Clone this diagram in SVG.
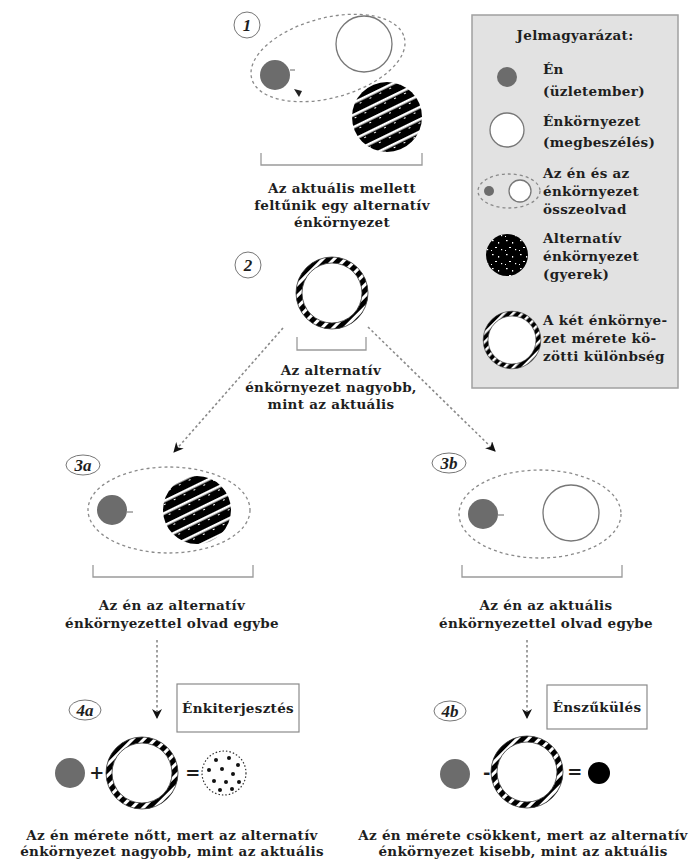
<svg xmlns="http://www.w3.org/2000/svg" width="694" height="859" viewBox="0 0 694 859">
<style>
text{font-family:"DejaVu Serif","Liberation Serif",serif;font-weight:bold;font-size:13.5px;fill:#1e1e1e;letter-spacing:0.3px}
.c{text-anchor:middle}
.num{font-family:"Liberation Serif",serif;font-style:italic;font-size:17px;text-anchor:middle;letter-spacing:0}
.op{font-size:18px}
.lbl{fill:#fff;stroke:#777;stroke-width:1}
.self{fill:#6c6c6c}
.env{fill:#fff;stroke:#777;stroke-width:1.3}
.merge{fill:none;stroke:#8a8a8a;stroke-width:1.3;stroke-dasharray:3 3}
.br{fill:none;stroke:#9a9a9a;stroke-width:1.3}
.conn{fill:none;stroke:#8a8a8a;stroke-width:1.6;stroke-dasharray:2.5 2.5}
.box{fill:#fff;stroke:#8a8a8a;stroke-width:1.2}
.tick{stroke:#666;stroke-width:1}
</style>
<defs>
<pattern id="stripes" patternUnits="userSpaceOnUse" width="11" height="11" patternTransform="rotate(-26)">
<rect width="11" height="11" fill="#000"/>
<rect y="4" width="11" height="2.6" fill="#fff"/>
<rect x="3" y="8" width="2" height="1" fill="#fff"/>
</pattern>
<pattern id="speckle" patternUnits="userSpaceOnUse" width="14" height="14">
<rect width="14" height="14" fill="#000"/>
<rect x="2" y="2" width="1.6" height="1.2" fill="#fff"/>
<rect x="8" y="4" width="1.2" height="1.6" fill="#fff"/>
<rect x="5" y="9" width="2" height="1" fill="#fff"/>
<rect x="11" y="11" width="1.2" height="1.2" fill="#fff"/>
<rect x="1" y="12" width="1" height="1" fill="#fff"/>
</pattern>
<pattern id="ringhatch" patternUnits="userSpaceOnUse" width="8" height="8" patternTransform="rotate(45)">
<rect width="8" height="8" fill="#000"/>
<rect x="0" width="3" height="8" fill="#fff"/>
</pattern>
<g id="ring">
<circle r="33" fill="#fff" stroke="url(#ringhatch)" stroke-width="6"/>
<circle r="36" fill="none" stroke="#333" stroke-width="0.8"/>
<circle r="30" fill="none" stroke="#333" stroke-width="0.8"/>
</g>
<marker id="arr" viewBox="0 0 10 10" refX="9" refY="5" markerWidth="10" markerHeight="10" orient="auto" markerUnits="userSpaceOnUse">
<path d="M0,0 L10,5 L0,10 L3,5 z" fill="#111"/>
</marker>
</defs>

<g id="connectors">
<path class="conn" d="M283,328 L174,452" marker-end="url(#arr)"/>
<path class="conn" d="M368,327 L495,451" marker-end="url(#arr)"/>
<path class="conn" d="M157,640 L157,718" marker-end="url(#arr)"/>
<path class="conn" d="M527,640 L527,718" marker-end="url(#arr)"/>
</g>

<g id="node-1">
<circle class="lbl" cx="247" cy="25" r="13"/>
<text class="num" x="247" y="31">1</text>
<ellipse class="merge" cx="328" cy="58" rx="79" ry="40" transform="rotate(-15 328 58)"/>
<circle class="env" cx="364" cy="44" r="28"/>
<circle class="self" cx="275" cy="75" r="15"/>
<line class="tick" x1="290" y1="70" x2="295" y2="70"/>
<path d="M294,89 L302,91 L299,97 z" fill="#222"/>
<circle cx="387" cy="117" r="35" fill="url(#stripes)"/>
<path class="br" d="M261,153 V165 H422 V153"/>
<text class="c" x="342" y="193">Az aktuális mellett</text>
<text class="c" x="342" y="210">feltűnik egy alternatív</text>
<text class="c" x="342" y="227">énkörnyezet</text>
</g>

<g id="legend">
<rect x="472" y="15" width="206" height="373" fill="#e2e2e2" stroke="#a0a0a0" stroke-width="1.5"/>
<text class="c" x="575" y="40">Jelmagyarázat:</text>
<circle class="self" cx="507" cy="77" r="10"/>
<text x="543" y="74">Én</text>
<text x="543" y="96">(üzletember)</text>
<circle class="env" cx="507" cy="130" r="17"/>
<text x="543" y="126">Énkörnyezet</text>
<text x="543" y="147">(megbeszélés)</text>
<ellipse class="merge" cx="509" cy="191" rx="31" ry="17"/>
<circle class="self" cx="489" cy="191" r="5"/>
<circle class="env" cx="520" cy="191" r="11"/>
<text x="543" y="178">Az én és az</text>
<text x="543" y="196">énkörnyezet</text>
<text x="543" y="214">összeolvad</text>
<circle cx="507" cy="255" r="21" fill="url(#speckle)"/>
<text x="543" y="243">Alternatív</text>
<text x="543" y="261">énkörnyezet</text>
<text x="543" y="279">(gyerek)</text>
<use href="#ring" transform="translate(512 340) scale(0.8)"/>
<text x="543" y="325">A két énkörnye-</text>
<text x="543" y="343">zet mérete kö-</text>
<text x="543" y="361">zötti különbség</text>
</g>

<g id="node-2">
<circle class="lbl" cx="248" cy="265" r="13"/>
<text class="num" x="248" y="271">2</text>
<use href="#ring" transform="translate(332 293)"/>
<path class="br" d="M297,337 V350 H366 V337"/>
<text class="c" x="331" y="375">Az alternatív</text>
<text class="c" x="331" y="392">énkörnyezet nagyobb,</text>
<text class="c" x="331" y="409">mint az aktuális</text>
</g>

<g id="node-3a">
<ellipse class="lbl" cx="83" cy="465" rx="17" ry="10"/>
<text class="num" x="83" y="471">3a</text>
<ellipse class="merge" cx="169" cy="510" rx="81" ry="43"/>
<circle class="self" cx="112" cy="510" r="15"/>
<line class="tick" x1="127" y1="512" x2="133" y2="512"/>
<circle cx="197" cy="510" r="34" fill="url(#stripes)"/>
<path class="br" d="M93,565 V577 H253 V565"/>
<text class="c" x="172" y="610">Az én az alternatív</text>
<text class="c" x="172" y="628">énkörnyezettel olvad egybe</text>
</g>

<g id="node-3b">
<ellipse class="lbl" cx="449" cy="463" rx="17" ry="10"/>
<text class="num" x="449" y="469">3b</text>
<ellipse class="merge" cx="540" cy="514" rx="81" ry="44"/>
<circle class="self" cx="483" cy="514" r="15"/>
<line class="tick" x1="498" y1="515" x2="504" y2="515"/>
<circle class="env" cx="571" cy="513" r="28"/>
<path class="br" d="M462,565 V577 H622 V565"/>
<text class="c" x="546" y="610">Az én az aktuális</text>
<text class="c" x="546" y="628">énkörnyezettel olvad egybe</text>
</g>

<g id="node-4a">
<ellipse class="lbl" cx="85" cy="710" rx="16" ry="10"/>
<text class="num" x="85" y="716">4a</text>
<rect class="box" x="177" y="684" width="122" height="48"/>
<text class="c" x="238" y="713">Énkiterjesztés</text>
<circle class="self" cx="70" cy="773" r="15"/>
<text class="c op" x="97" y="779">+</text>
<use href="#ring" transform="translate(142 773)"/>
<text class="c op" x="193" y="779">=</text>
<circle cx="224" cy="773" r="22" fill="#fff" stroke="#333" stroke-width="1.2" stroke-dasharray="1.5 2"/>
<g fill="#111">
<circle cx="216" cy="760" r="2"/><circle cx="229" cy="758" r="2"/><circle cx="238" cy="765" r="2"/>
<circle cx="209" cy="770" r="2"/><circle cx="222" cy="769" r="2"/><circle cx="233" cy="774" r="2"/>
<circle cx="214" cy="781" r="2"/><circle cx="226" cy="782" r="2"/><circle cx="239" cy="782" r="2"/>
<circle cx="220" cy="790" r="2"/><circle cx="232" cy="789" r="2"/>
</g>
<text class="c" x="172" y="840">Az én mérete nőtt, mert az alternatív</text>
<text class="c" x="172" y="856">énkörnyezet nagyobb, mint az aktuális</text>
</g>

<g id="node-4b">
<ellipse class="lbl" cx="450" cy="711" rx="16" ry="10"/>
<text class="num" x="450" y="717">4b</text>
<rect class="box" x="547" y="685" width="100" height="44"/>
<text class="c" x="597" y="712">Énszűkülés</text>
<circle class="self" cx="455" cy="774" r="15"/>
<text class="c op" x="487" y="779">-</text>
<use href="#ring" transform="translate(527 772)"/>
<text class="c op" x="575" y="778">=</text>
<circle cx="599" cy="773" r="11" fill="#000"/>
<text class="c" x="523" y="840">Az én mérete csökkent, mert az alternatív</text>
<text class="c" x="523" y="856">énkörnyezet kisebb, mint az aktuális</text>
</g>
</svg>
